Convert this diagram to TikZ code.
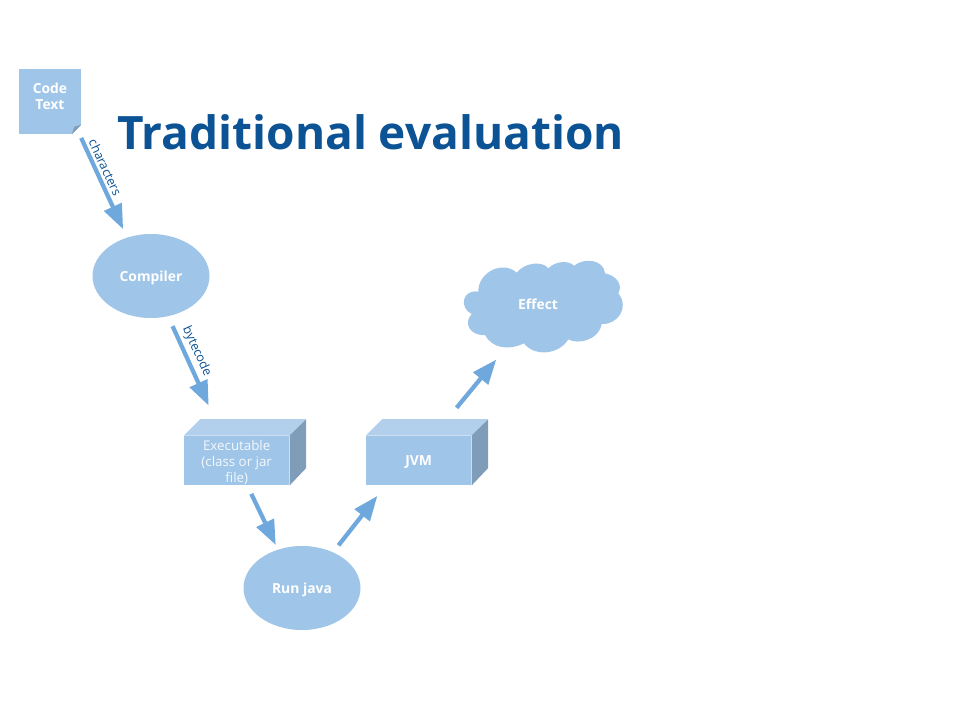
\documentclass[tikz,border=0pt]{standalone}
\usepackage{fontspec}
\setmainfont{Open Sans}
\usetikzlibrary{calc,shapes.geometric,arrows.meta}

\definecolor{fillblue}{HTML}{9FC5E8}
\definecolor{topblue}{HTML}{B2CFEC}
\definecolor{sideblue}{HTML}{7F9DB9}
\definecolor{arrowblue}{HTML}{6FA8DC}
\definecolor{darkblue}{HTML}{0B5394}

\begin{document}
\begin{tikzpicture}[
x=.75pt, y=-.75pt,
shape label/.style={
	text=white, font=\fontsize{10.4}{12}\selectfont\bfseries,
	align=center, inner sep=0pt, text depth=0pt
},
note/.style={
	shape label, rectangle, fill=fillblue,
	minimum width=46.5pt, minimum height=48.75pt
},
oval/.style={
	shape label, ellipse, fill=fillblue,
	minimum width=87.75pt, minimum height=63pt
},
box/.style={
	shape label, rectangle, fill=fillblue,
	minimum width=79pt, minimum height=37pt
},
flow/.style={
	draw=arrowblue, line width=3.2pt,
	-{Triangle[length=18.5pt,width=14pt]}
},
along/.style={
	sloped, above=1.5pt, text=darkblue, fill=white, inner sep=.5pt,
	font=\fontsize{9.4}{12}\selectfont
}
]
\useasboundingbox (0,0) rectangle (960,720);
\node[anchor=west, text=darkblue, inner sep=0pt,
	font=\fontsize{34.5}{40}\selectfont\bfseries] (title) at (117,132) {Traditional evaluation};
\node[note] (code) at (50,101.5) {};
\node[shape label] (codelabel) at (50,96.5) {Code\\Text};
\node[oval] (compiler) at (151,276) {Compiler};
\node[box] (exec) at (236.7,460.5) {};
\node[box] (jvm) at (418.7,460.5) {JVM};
\node[oval] (run) at (302,588) {Run java};
% cloud outline
\fill[fillblue] (478.3,291.7)
	.. controls (478,272) and (503,260) .. (516.7,272.7)
	.. controls (525,262) and (543,261) .. (548.3,268.3)
	.. controls (556,260.5) and (569,260.5) .. (574,265.7)
	.. controls (585,257) and (604,260) .. (605,273.3)
	.. controls (617,276) and (623,285) .. (618.3,293.3)
	.. controls (630,308) and (617,325) .. (601.7,324)
	.. controls (599,340) and (578,345) .. (568.3,339.3)
	.. controls (558,356) and (533,356) .. (524,343.3)
	.. controls (508,351) and (492,348) .. (485,335)
	.. controls (470,336) and (463,323) .. (471.7,314)
	.. controls (459,308) and (462,289) .. (478.3,291.7) -- cycle;
\node[shape label, ellipse, minimum width=120pt, minimum height=67.5pt] (effect) at (538,304) {Effect};
\node[text=white!88!fillblue, align=center, inner sep=0pt,
	font=\fontsize{10}{12}\selectfont] (execlabel) at (236.7,462) {Executable\\(class or jar\\file)};
% folded corner
\fill[white] (code.south east) -- ++(-9.5,0) -- ++(9.5,-9.5) -- cycle;
\fill[sideblue] ($(code.south east)+(-9.5,0)$) -- ++(2.5,-7.5) -- ++(7,-2) -- cycle;
% sides of the two boxes
\foreach \n in {exec,jvm}
{
	\fill[topblue] (\n.north west) -- ++(16.4,-16.4) -- ++(105.3,0)
		-- (\n.north east) -- cycle;
	\fill[sideblue] (\n.north east) -- ++(16.4,-16.4) -- ++(0,49)
		-- (\n.south east) -- cycle;
}
\draw[flow, shorten <=3pt, shorten >=6.8pt] (code.-48) -- node[along, pos=.36] {characters} (compiler.122);
\draw[flow, shorten <=8pt, shorten >=24.7pt] (compiler.-67) -- node[along, above=.3pt, pos=.335] {bytecode} (exec.120);
\draw[flow, shorten <=7pt, shorten >=3.7pt] (exec.-67.6) -- (run.122.9);
\draw[flow, shorten <=6.5pt, shorten >=10pt] (run.49) -- (jvm.217.8);
\draw[flow, shorten <=27pt, shorten >=13.3pt] (jvm.59.7) -- (effect.234.3);
\end{tikzpicture}
\end{document}
